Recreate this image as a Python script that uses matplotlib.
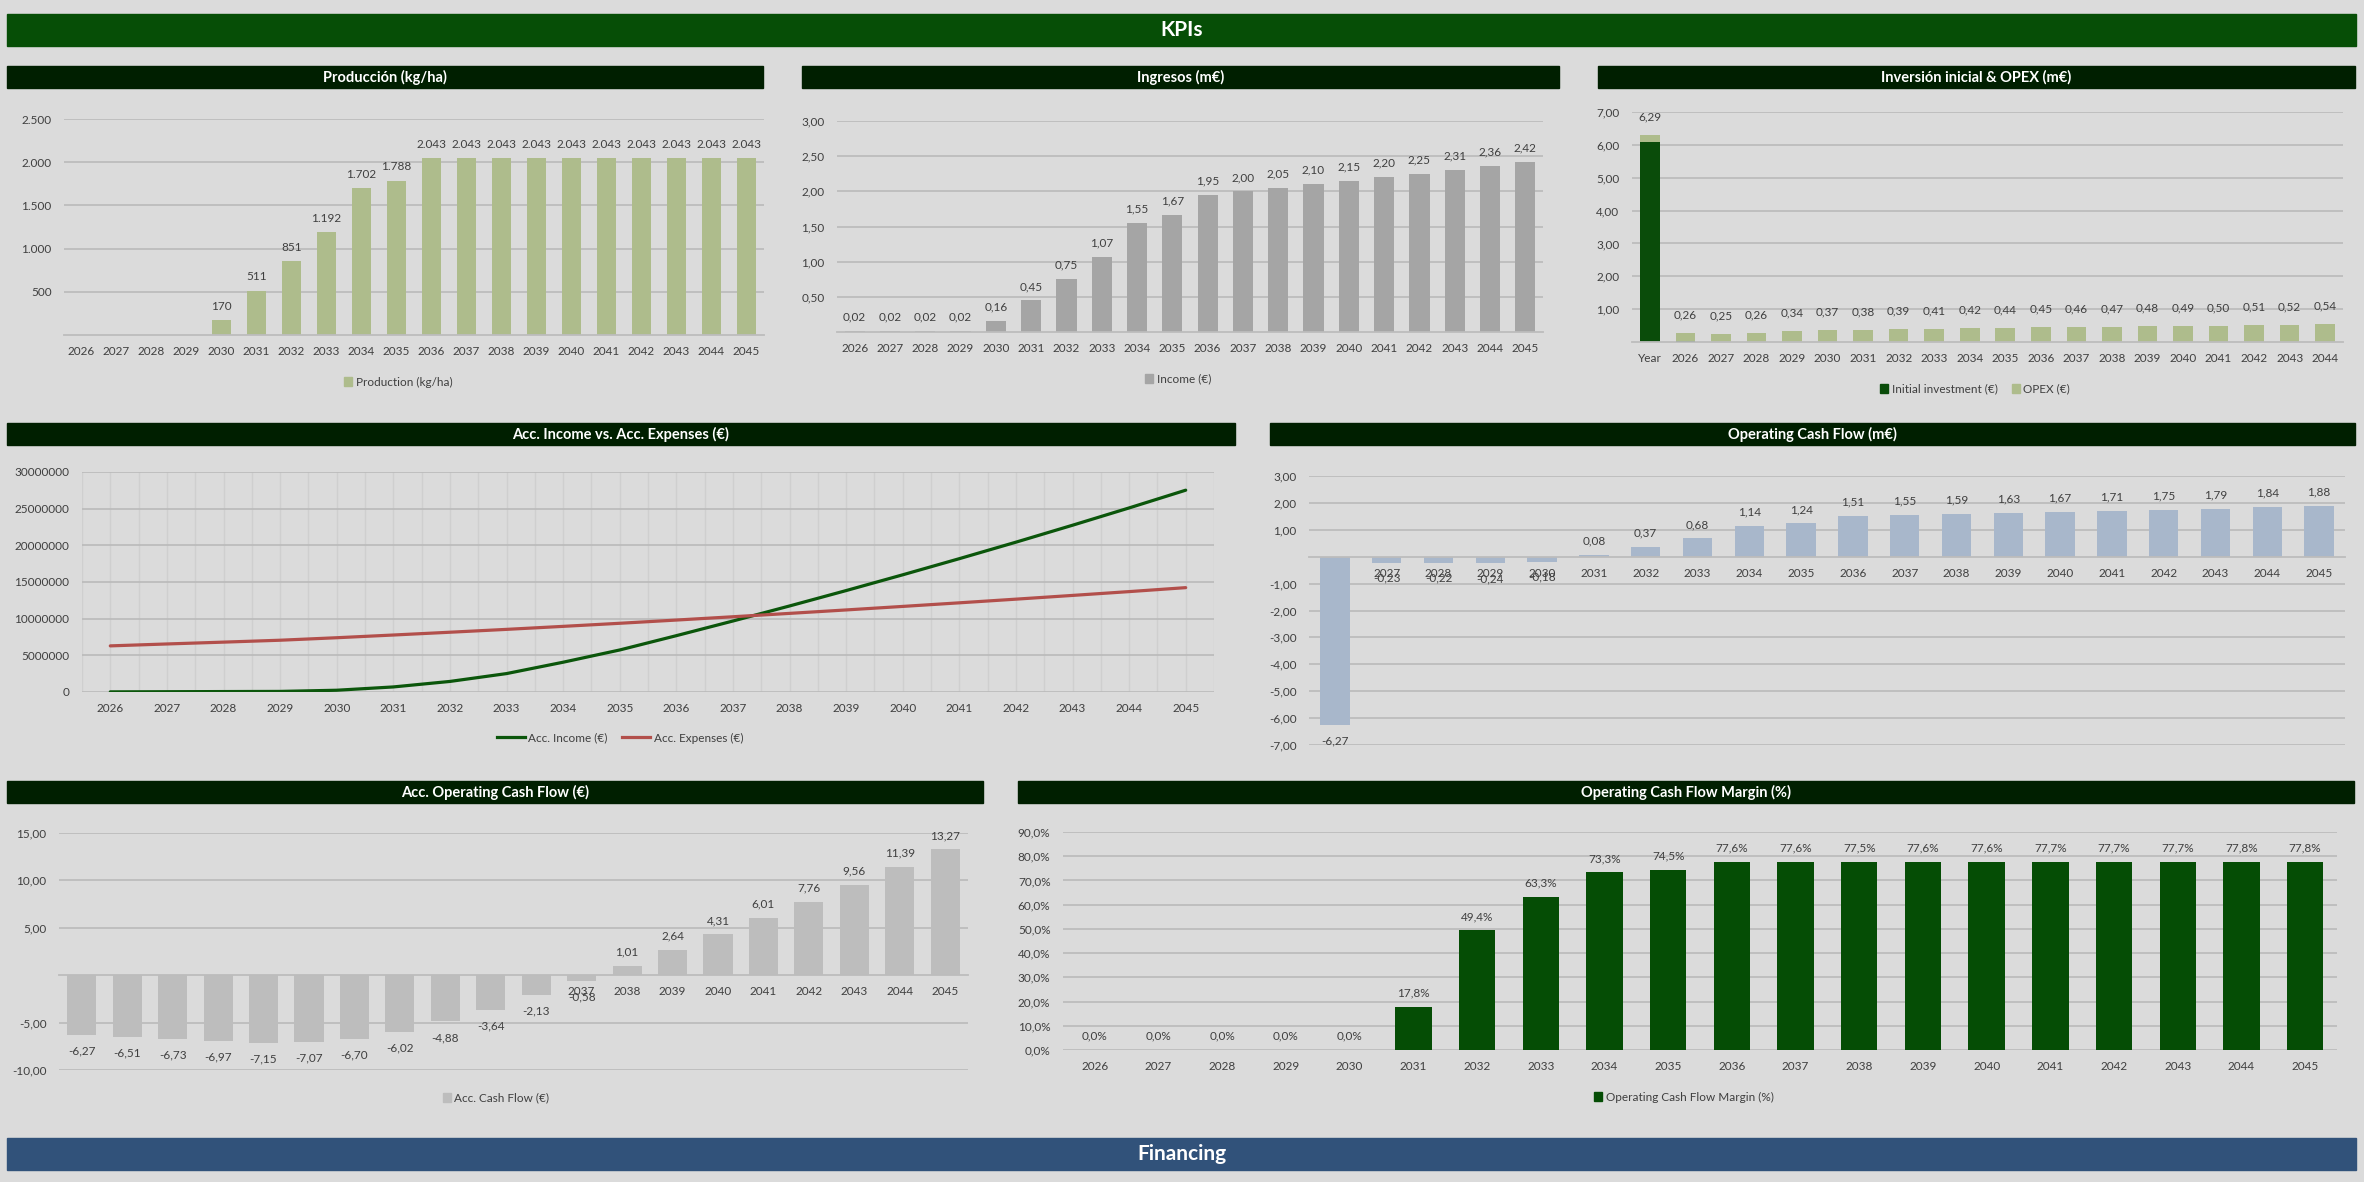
import matplotlib
matplotlib.use('Agg')
import matplotlib.pyplot as plt
from matplotlib.patches import Rectangle, Patch
from matplotlib.lines import Line2D

W, H = 2364, 1182
plt.rcParams['font.family'] = ['Lato', 'DejaVu Sans']

# ---------------- data ----------------
years = ['2026', '2027', '2028', '2029', '2030', '2031', '2032', '2033', '2034', '2035',
         '2036', '2037', '2038', '2039', '2040', '2041', '2042', '2043', '2044', '2045']
production = [0, 0, 0, 0, 170, 511, 851, 1192, 1702, 1788,
              2043, 2043, 2043, 2043, 2043, 2043, 2043, 2043, 2043, 2043]
income = [0.02, 0.02, 0.02, 0.02, 0.16, 0.45, 0.75, 1.07, 1.55, 1.67,
          1.95, 2.00, 2.05, 2.10, 2.15, 2.20, 2.25, 2.31, 2.36, 2.42]
capex_cats = ['Year', '2026', '2027', '2028', '2029', '2030', '2031', '2032', '2033', '2034',
              '2035', '2036', '2037', '2038', '2039', '2040', '2041', '2042', '2043', '2044']
initial_investment = [6.10, 0.03, 0, 0, 0, 0, 0, 0, 0, 0, 0, 0, 0, 0, 0, 0, 0, 0, 0, 0]
opex = [0.19, 0.23, 0.25, 0.26, 0.34, 0.37, 0.38, 0.39, 0.41, 0.42,
        0.44, 0.45, 0.46, 0.47, 0.48, 0.49, 0.50, 0.51, 0.52, 0.54]
capex_total_labels = [6.29, 0.26, 0.25, 0.26, 0.34, 0.37, 0.38, 0.39, 0.41, 0.42,
                      0.44, 0.45, 0.46, 0.47, 0.48, 0.49, 0.50, 0.51, 0.52, 0.54]
acc_income_m = [0.02, 0.04, 0.06, 0.08, 0.24, 0.69, 1.44, 2.51, 4.06, 5.73,
                7.68, 9.68, 11.73, 13.83, 15.98, 18.18, 20.43, 22.74, 25.10, 27.52]
acc_expenses_m = [6.29, 6.55, 6.80, 7.06, 7.40, 7.77, 8.15, 8.54, 8.95, 9.37,
                  9.81, 10.26, 10.72, 11.19, 11.67, 12.16, 12.66, 13.17, 13.69, 14.23]
ocf = [-6.27, -0.23, -0.22, -0.24, -0.18, 0.08, 0.37, 0.68, 1.14, 1.24,
       1.51, 1.55, 1.59, 1.63, 1.67, 1.71, 1.75, 1.79, 1.84, 1.88]
acc_ocf = [-6.27, -6.51, -6.73, -6.97, -7.15, -7.07, -6.70, -6.02, -4.88, -3.64,
           -2.13, -0.58, 1.01, 2.64, 4.31, 6.01, 7.76, 9.56, 11.39, 13.27]
ocf_margin = [0.0, 0.0, 0.0, 0.0, 0.0, 17.8, 49.4, 63.3, 73.3, 74.5,
              77.6, 77.6, 77.5, 77.6, 77.6, 77.7, 77.7, 77.7, 77.8, 77.8]

# ---------------- style ----------------
BG = '#DBDBDB'
GRID = '#BCBCBC'
TXT = '#3F3F3F'
BANNER = '#064E06'
TITLEBAR = '#001F00'
FIN = '#31527A'
C_PROD = '#AEBC8C'
C_INC = '#A5A5A5'
C_INV = '#0A4C0A'
C_OPEX = '#AEBC8C'
C_LINE_INC = '#0B560B'
C_LINE_EXP = '#B24F4B'
C_OCF = '#A8B7CB'
C_ACC = '#BDBDBD'
C_MARGIN = '#054D05'
FS = 8.5

fig = plt.figure(figsize=(W / 100, H / 100), dpi=100)
fig.patch.set_facecolor(BG)


def px_rect(x0, y0, x1, y1):
    return [x0 / W, 1 - y1 / H, (x1 - x0) / W, (y1 - y0) / H]


def bar_title(x0, y0, x1, y1, text, color=TITLEBAR, size=10.5, weight='bold'):
    fig.add_artist(Rectangle((x0 / W, 1 - y1 / H), (x1 - x0) / W, (y1 - y0) / H,
                             transform=fig.transFigure, color=color, zorder=0))
    fig.text((x0 + x1) / 2 / W, 1 - (y0 + y1) / 2 / H, text, ha='center', va='center',
             color='white', fontsize=size, fontweight=weight)


def make_ax(rect, n, ylim, yticks, ylabels):
    ax = fig.add_axes(px_rect(*rect))
    ax.set_facecolor('none')
    for s in ax.spines.values():
        s.set_visible(False)
    ax.set_xlim(-0.5, n - 0.5)
    ax.set_ylim(*ylim)
    ax.set_yticks(yticks)
    ax.set_yticklabels(ylabels)
    ax.yaxis.grid(True, color=GRID, lw=1.3)
    ax.set_axisbelow(True)
    ax.tick_params(axis='both', length=0, labelsize=FS, colors=TXT)
    ax.tick_params(axis='y', pad=9)
    ax.tick_params(axis='x', pad=8)
    return ax


def base_axis(ax, at_zero=False):
    sp = ax.spines['bottom']
    sp.set_visible(True)
    if at_zero:
        sp.set_position(('data', 0))
    sp.set_color(GRID)
    sp.set_linewidth(1.3)


def label(ax, x, y, text, off):
    ax.annotate(text, (x, y), xytext=(0, off), textcoords='offset points',
                ha='center', va='center', fontsize=FS, color=TXT)


def legend(ax, handles, labels, cx, cy, **kw):
    lg = ax.legend(handles, labels, loc='center', bbox_to_anchor=(cx / W, 1 - cy / H),
                   bbox_transform=fig.transFigure, frameon=False, fontsize=FS,
                   ncol=len(handles), handletextpad=0.3, columnspacing=1.2, **kw)
    for t in lg.get_texts():
        t.set_color(TXT)


def c2(v):
    return f'{v:.2f}'.replace('.', ',')


def thou(v):
    return f'{v:,.0f}'.replace(',', '.')


# ---------------- banners ----------------
bar_title(7, 14, 2356, 46, 'KPIs', color=BANNER, size=15)
bar_title(7, 1138, 2356, 1170, 'Financing', color=FIN, size=15)

# ---------------- 1. Production ----------------
bar_title(7, 66, 763, 88, 'Producción (kg/ha)')
n = len(years)
ax = make_ax((64, 119, 764, 335), n, (0, 2500), [500, 1000, 1500, 2000, 2500],
             [thou(v) for v in [500, 1000, 1500, 2000, 2500]])
base_axis(ax)
ax.bar(range(n), production, width=0.57, color=C_PROD)
for i, v in enumerate(production):
    if v > 0:
        label(ax, i, v, thou(v), 10)
ax.set_xticks(range(n))
ax.set_xticklabels(years)
legend(ax, [Patch(color=C_PROD)], ['Production (kg/ha)'], 398, 382,
       handlelength=0.7, handleheight=0.7)

# ---------------- 2. Income ----------------
bar_title(802, 66, 1559, 88, 'Ingresos (m€)')
ax = make_ax((837, 121, 1543, 332), n, (0, 3), [0.5, 1, 1.5, 2, 2.5, 3],
             [c2(v) for v in [0.5, 1, 1.5, 2, 2.5, 3]])
base_axis(ax)
ax.bar(range(n), income, width=0.57, color=C_INC)
for i, v in enumerate(income):
    label(ax, i, v, c2(v), 10)
ax.set_xticks(range(n))
ax.set_xticklabels(years)
legend(ax, [Patch(color=C_INC)], ['Income (€)'], 1178, 379,
       handlelength=0.7, handleheight=0.7)

# ---------------- 3. Initial investment & OPEX ----------------
bar_title(1598, 66, 2355, 88, 'Inversión inicial & OPEX (m€)')
m = len(capex_cats)
ax = make_ax((1632, 112, 2343, 342), m, (0, 7), [1, 2, 3, 4, 5, 6, 7],
             [c2(v) for v in [1, 2, 3, 4, 5, 6, 7]])
base_axis(ax)
ax.bar(range(m), initial_investment, width=0.55, color=C_INV)
ax.bar(range(m), opex, width=0.55, bottom=initial_investment, color=C_OPEX)
for i in range(m):
    top = initial_investment[i] + opex[i]
    label(ax, i, top, c2(capex_total_labels[i]), 13)
ax.set_xticks(range(m))
ax.set_xticklabels(capex_cats)
legend(ax, [Patch(color=C_INV), Patch(color=C_OPEX)],
       ['Initial investment (€)', 'OPEX (€)'], 1975, 389,
       handlelength=0.7, handleheight=0.7)

# ---------------- 4. Acc income vs acc expenses ----------------
bar_title(7, 423, 1235, 445, 'Acc. Income vs. Acc. Expenses (€)')
yt = [0, 5000000, 10000000, 15000000, 20000000, 25000000, 30000000]
ax = make_ax((82, 472, 1214, 692), n, (0, 30000000), yt, [str(v) for v in yt])
for k in range(2 * n + 1):
    ax.axvline(-0.5 + 0.5 * k, color='#CFCFCF', lw=1.0, zorder=0)
ax.plot(range(n), [v * 1e6 for v in acc_income_m], color=C_LINE_INC, lw=2.3,
        solid_capstyle='round')
ax.plot(range(n), [v * 1e6 for v in acc_expenses_m], color=C_LINE_EXP, lw=2.3,
        solid_capstyle='round')
ax.set_xticks(range(n))
ax.set_xticklabels(years)
legend(ax, [Line2D([], [], color=C_LINE_INC, lw=2.3), Line2D([], [], color=C_LINE_EXP, lw=2.3)],
       ['Acc. Income (€)', 'Acc. Expenses (€)'], 620, 738, handlelength=2.4)

# ---------------- 5. Operating cash flow ----------------
bar_title(1270, 423, 2355, 445, 'Operating Cash Flow (m€)')
yt = [-7, -6, -5, -4, -3, -2, -1, 1, 2, 3]
ax = make_ax((1309, 476, 2345, 745), n, (-7, 3), yt, [c2(v) for v in yt])
base_axis(ax, at_zero=True)
ax.bar(range(n), ocf, width=0.57, color=C_OCF)
for i, v in enumerate(ocf):
    label(ax, i, v, c2(v), 10 if v >= 0 else -11)
ax.set_xticks(range(n))
ax.set_xticklabels(years)

# ---------------- 6. Acc. operating cash flow ----------------
bar_title(7, 781, 983, 803, 'Acc. Operating Cash Flow (€)')
yt = [-10, -5, 5, 10, 15]
ax = make_ax((59, 833, 968, 1070), n, (-10, 15), yt, [c2(v) for v in yt])
base_axis(ax, at_zero=True)
ax.bar(range(n), acc_ocf, width=0.64, color=C_ACC)
for i, v in enumerate(acc_ocf):
    label(ax, i, v, c2(v), 10 if v >= 0 else -11.5)
ax.set_xticks(range(n))
ax.set_xticklabels(years)
legend(ax, [Patch(color=C_ACC)], ['Acc. Cash Flow (€)'], 496, 1098,
       handlelength=0.7, handleheight=0.7)

# ---------------- 7. Operating cash flow margin ----------------
bar_title(1018, 781, 2354, 803, 'Operating Cash Flow Margin (%)')
yt = [0, 10, 20, 30, 40, 50, 60, 70, 80, 90]
ax = make_ax((1063, 832, 2337, 1050), n, (0, 90), yt,
             [f'{v:.1f}%'.replace('.', ',') for v in yt])
ax.bar(range(n), ocf_margin, width=0.57, color=C_MARGIN)
for i, v in enumerate(ocf_margin):
    label(ax, i, v, f'{v:.1f}%'.replace('.', ','), 10)
ax.set_xticks(range(n))
ax.set_xticklabels(years)
legend(ax, [Patch(color=C_MARGIN)], ['Operating Cash Flow Margin (%)'], 1684, 1097,
       handlelength=0.7, handleheight=0.7)

fig.savefig('out.png', dpi=100, facecolor=BG)
